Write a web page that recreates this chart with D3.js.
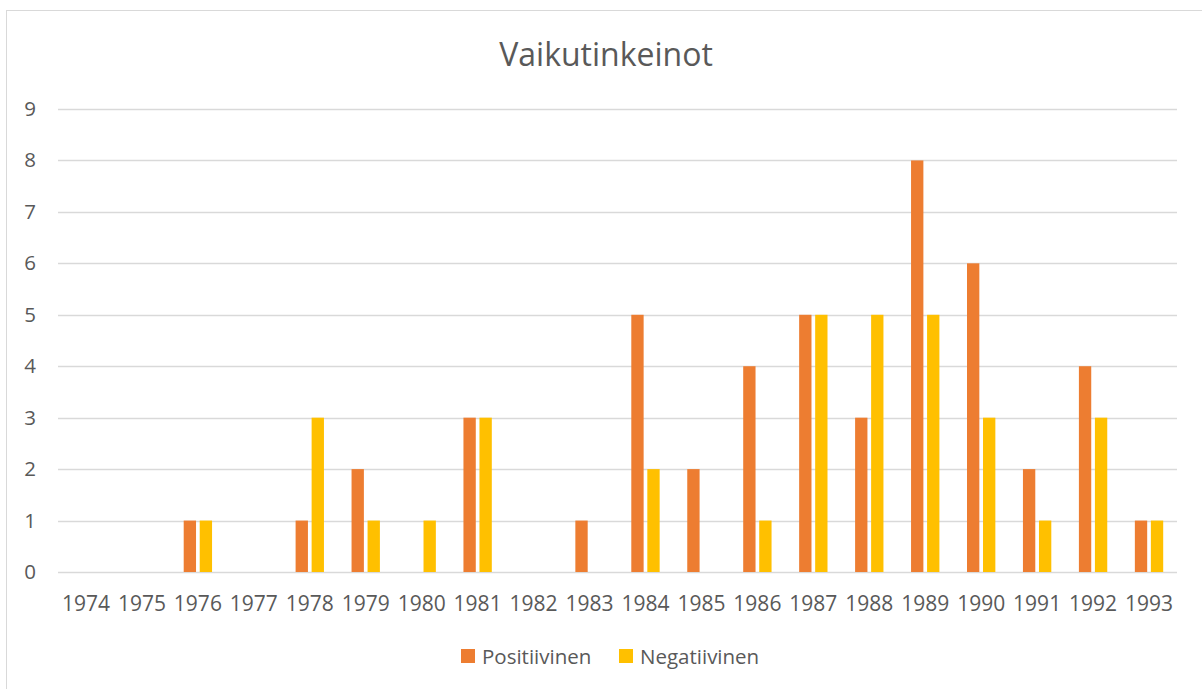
<!DOCTYPE html>
<html>
<head>
<meta charset="utf-8">
<script src="https://cdn.jsdelivr.net/npm/d3@7"></script>
<style>
body { margin: 0; background: #fff; }
text { font-family: "Open Sans", sans-serif; fill: #595959; }
</style>
</head>
<body>
<div id="chart-area"></div>
<script>
// Vaikutinkeinot
var years = ["1974", "1975", "1976", "1977", "1978", "1979", "1980", "1981", "1982", "1983",
    "1984", "1985", "1986", "1987", "1988", "1989", "1990", "1991", "1992", "1993"];
var positiivinen = [0, 0, 1, 0, 1, 2, 0, 3, 0, 1, 5, 2, 4, 5, 3, 8, 6, 2, 4, 1];
var negatiivinen = [0, 0, 1, 0, 3, 1, 1, 3, 0, 0, 2, 0, 1, 5, 5, 5, 3, 1, 3, 1];
var seriesNames = ["Positiivinen", "Negatiivinen"];
var colors = ["#ED7D31", "#FFC000"];
var yTicks = [0, 1, 2, 3, 4, 5, 6, 7, 8, 9];

var margin = {
    left: 58,
    right: 25,
    top: 109,
    bottom: 117,
};
var W = 1202, H = 689;
var width = W - margin.left - margin.right;
var height = H - margin.top - margin.bottom;

var svg = d3.select("#chart-area").append("svg")
    .attr("width", W)
    .attr("height", H);

// chart border
svg.append("rect")
    .attr("x", 6.5).attr("y", 10.5)
    .attr("width", 1200).attr("height", 690)
    .attr("fill", "none")
    .attr("stroke", "#d9d9d9");

var g = svg.append("g")
    .attr("transform", "translate(" + margin.left + ", " + margin.top + ")");

var x = d3.scaleBand()
    .domain(years)
    .range([0, width])
    .paddingInner(0)
    .paddingOuter(0);

var x1 = d3.scaleBand()
    .domain(seriesNames)
    .range([13.8, x.bandwidth() - 13.8])
    .paddingInner(0.23);

var y = d3.scaleLinear()
    .domain([0, 9])
    .range([height, 0]);

// gridlines
g.selectAll(".grid")
    .data(yTicks)
    .enter().append("line")
    .attr("class", "grid")
    .attr("x1", 0).attr("x2", width)
    .attr("y1", (d) => Math.round(y(d)) + 0.5)
    .attr("y2", (d) => Math.round(y(d)) + 0.5)
    .attr("stroke", "#d9d9d9")
    .attr("stroke-width", 1.3);

// y labels
g.selectAll(".ylab")
    .data(yTicks)
    .enter().append("text")
    .attr("class", "ylab")
    .attr("x", -22)
    .attr("y", (d) => y(d) + 7)
    .attr("text-anchor", "end")
    .attr("font-size", "20.5px")
    .text((d) => d);

// x labels
var bottomAxis = d3.axisBottom(x).tickSize(0).tickPadding(0);
var xAxis = g.append("g")
    .attr("transform", "translate(0, " + height + ")")
    .call(bottomAxis);
xAxis.select(".domain").remove();
xAxis.selectAll("text")
    .attr("y", 39)
    .attr("dy", 0)
    .attr("font-size", "21px")
    .attr("font-family", "Open Sans, sans-serif")
    .style("fill", "#595959");

// bars
var data = [];
years.forEach((yr, i) => {
    data.push({ year: yr, series: seriesNames[0], value: positiivinen[i] });
    data.push({ year: yr, series: seriesNames[1], value: negatiivinen[i] });
});

g.selectAll(".bar")
    .data(data.filter((d) => d.value > 0))
    .enter().append("rect")
    .attr("class", "bar")
    .attr("x", (d) => x(d.year) + x1(d.series))
    .attr("y", (d) => y(d.value))
    .attr("width", x1.bandwidth())
    .attr("height", (d) => height - y(d.value))
    .attr("fill", (d) => colors[seriesNames.indexOf(d.series)]);

// title
svg.append("text")
    .attr("x", 606)
    .attr("y", 66)
    .attr("text-anchor", "middle")
    .attr("font-size", "32px")
    .text("Vaikutinkeinot");

// legend
var legendX = [461, 619];
var legend = svg.selectAll(".legend")
    .data(seriesNames)
    .enter().append("g")
    .attr("class", "legend")
    .attr("transform", (d, i) => "translate(" + legendX[i] + ", 649)");
legend.append("rect")
    .attr("width", 14).attr("height", 14)
    .attr("fill", (d, i) => colors[i]);
legend.append("text")
    .attr("x", 21)
    .attr("y", 15)
    .attr("font-size", "20.5px")
    .text((d) => d);
</script>
</body>
</html>
